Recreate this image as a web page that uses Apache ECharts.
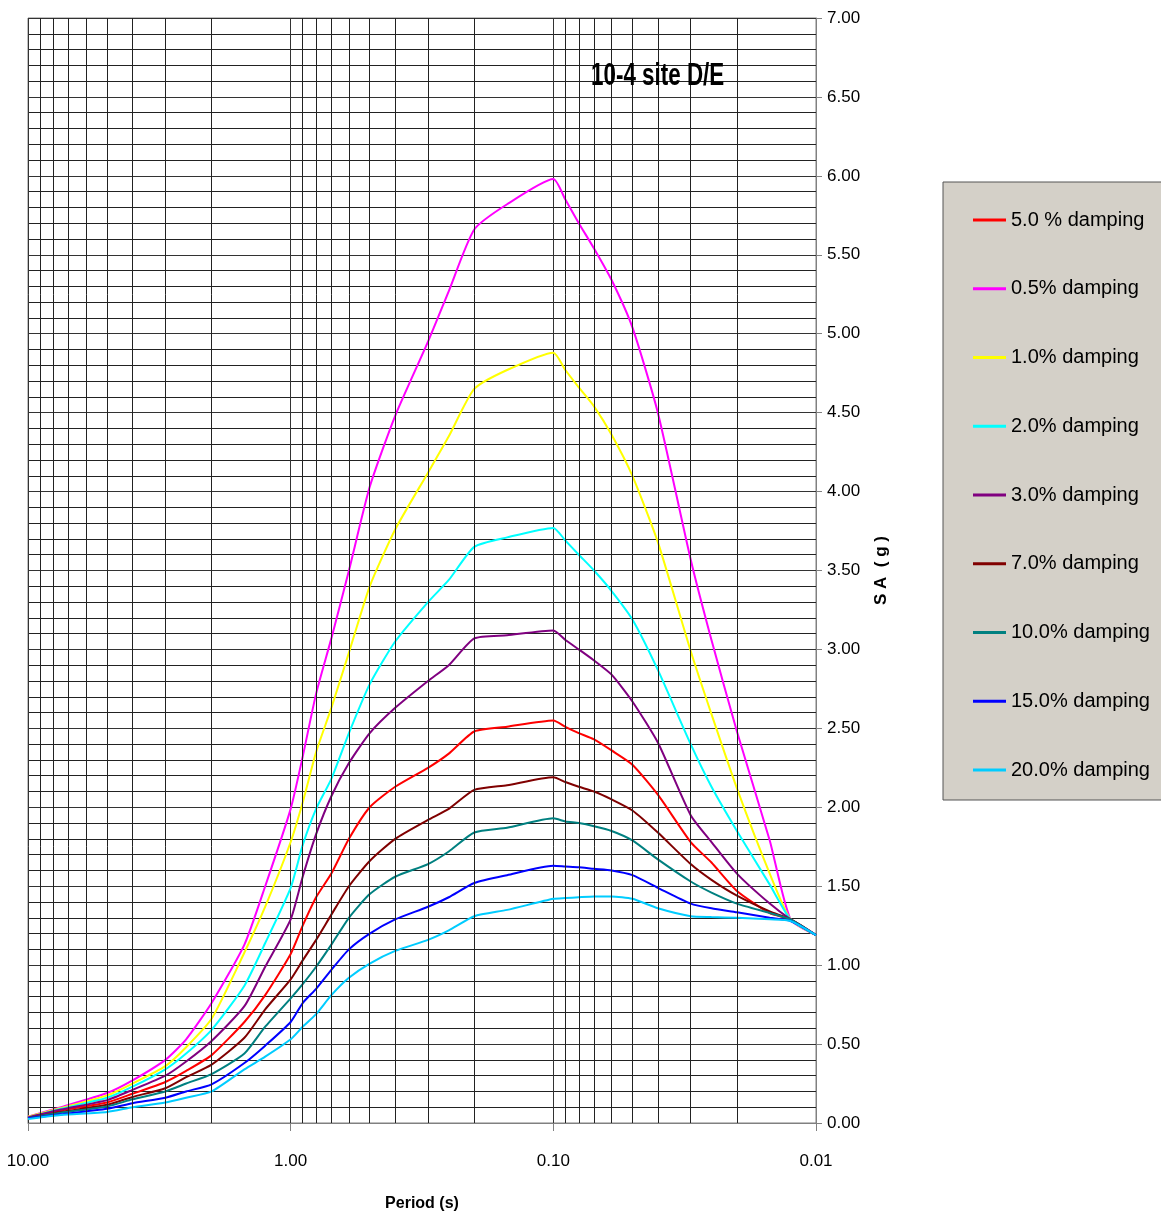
<!DOCTYPE html>
<html>
<head>
<meta charset="utf-8">
<title>10-4 site D/E</title>
<script src="https://cdn.jsdelivr.net/npm/echarts@6/dist/echarts.min.js"></script>
<style>
  html, body { margin: 0; padding: 0; background: #fff; }
  #chart { width: 1161px; height: 1220px; }
</style>
</head>
<body>
<div id="chart"></div>
<script>
// periods (s)
const periods = [10, 7.5, 5, 4, 3, 2.5, 2, 1.5, 1.25, 1, 0.9, 0.8, 0.7, 0.6, 0.5, 0.4, 0.3, 0.25, 0.2, 0.15,
  0.1, 0.09, 0.08, 0.07, 0.06, 0.05, 0.04, 0.03, 0.025, 0.02, 0.015, 0.0125, 0.01];

// spectral acceleration (g) per damping
const damp50 = [0.035, 0.08, 0.13, 0.185, 0.26, 0.33, 0.43, 0.64, 0.81, 1.07, 1.25, 1.43, 1.58, 1.80, 2.00, 2.13, 2.25, 2.34, 2.48, 2.51,
  2.55, 2.51, 2.47, 2.43, 2.36, 2.27, 2.08, 1.78, 1.65, 1.47, 1.33, 1.29, 1.19];
const damp05 = [0.04, 0.10, 0.19, 0.27, 0.40, 0.53, 0.76, 1.13, 1.50, 1.99, 2.32, 2.72, 3.07, 3.50, 4.03, 4.48, 4.95, 5.27, 5.66, 5.82,
  5.98, 5.85, 5.70, 5.54, 5.34, 5.04, 4.50, 3.57, 3.06, 2.48, 1.79, 1.29, 1.19];
const damp10 = [0.04, 0.095, 0.175, 0.25, 0.36, 0.48, 0.66, 1.08, 1.37, 1.78, 2.03, 2.35, 2.63, 2.98, 3.40, 3.76, 4.12, 4.35, 4.65, 4.77,
  4.88, 4.77, 4.66, 4.54, 4.36, 4.10, 3.68, 2.99, 2.59, 2.12, 1.58, 1.29, 1.19];
const damp20 = [0.035, 0.09, 0.16, 0.23, 0.34, 0.44, 0.59, 0.87, 1.14, 1.49, 1.76, 1.99, 2.18, 2.47, 2.78, 3.05, 3.30, 3.44, 3.65, 3.71,
  3.77, 3.69, 3.60, 3.50, 3.37, 3.19, 2.87, 2.40, 2.13, 1.85, 1.51, 1.29, 1.19];
const damp30 = [0.035, 0.085, 0.145, 0.21, 0.30, 0.39, 0.52, 0.74, 0.99, 1.29, 1.56, 1.83, 2.07, 2.28, 2.47, 2.63, 2.80, 2.90, 3.07, 3.09,
  3.12, 3.06, 3.00, 2.93, 2.84, 2.67, 2.41, 1.95, 1.78, 1.58, 1.39, 1.29, 1.19];
const damp70 = [0.03, 0.07, 0.115, 0.165, 0.22, 0.29, 0.37, 0.54, 0.72, 0.91, 1.03, 1.16, 1.32, 1.50, 1.66, 1.80, 1.92, 1.99, 2.11, 2.14,
  2.19, 2.16, 2.13, 2.10, 2.05, 1.98, 1.84, 1.64, 1.54, 1.44, 1.34, 1.29, 1.19];
const damp100 = [0.03, 0.065, 0.105, 0.15, 0.20, 0.25, 0.31, 0.44, 0.61, 0.79, 0.88, 0.99, 1.13, 1.30, 1.45, 1.56, 1.64, 1.72, 1.84, 1.87,
  1.93, 1.91, 1.90, 1.88, 1.85, 1.79, 1.67, 1.53, 1.46, 1.39, 1.33, 1.29, 1.19];
const damp150 = [0.03, 0.055, 0.09, 0.125, 0.16, 0.20, 0.245, 0.38, 0.49, 0.64, 0.76, 0.85, 0.97, 1.10, 1.20, 1.29, 1.37, 1.43, 1.52, 1.57,
  1.63, 1.625, 1.62, 1.61, 1.60, 1.57, 1.49, 1.39, 1.36, 1.335, 1.30, 1.28, 1.19];
const damp200 = [0.025, 0.05, 0.07, 0.10, 0.13, 0.16, 0.20, 0.34, 0.42, 0.53, 0.61, 0.69, 0.81, 0.92, 1.01, 1.09, 1.16, 1.22, 1.31, 1.35,
  1.42, 1.425, 1.43, 1.435, 1.435, 1.42, 1.36, 1.31, 1.305, 1.30, 1.29, 1.28, 1.19];

const seriesNames = ['5.0 % damping', '0.5% damping', '1.0% damping', '2.0% damping', '3.0% damping',
  '7.0% damping', '10.0% damping', '15.0% damping', '20.0% damping'];
const seriesValues = [damp50, damp05, damp10, damp20, damp30, damp70, damp100, damp150, damp200];
const seriesColors = ['#ff0000', '#ff00ff', '#ffff00', '#00ffff', '#800080', '#800000', '#008080', '#0000ff', '#00ccff'];

const FONT = "'Liberation Sans', Arial, sans-serif";

// minor vertical grid lines of the log axis (2..9 in every decade)
const minorX = [];
[0.01, 0.1, 1].forEach(d => {
  for (let k = 2; k <= 9; k++) minorX.push(+(k * d).toFixed(4));
});

const series = [{
  name: 'grid',
  type: 'line',
  data: [],
  silent: true,
  z: 1,
  markLine: {
    silent: true,
    symbol: 'none',
    animation: false,
    label: { show: false },
    lineStyle: { color: '#222', width: 1, type: 'solid' },
    data: minorX.map(v => ({ xAxis: v }))
  }
}];
seriesNames.forEach((name, i) => {
  series.push({
    name: name,
    type: 'line',
    showSymbol: false,
    symbol: 'none',
    smooth: 0.2,
    color: seriesColors[i],
    lineStyle: { width: 2, color: seriesColors[i] },
    data: periods.map((t, j) => [t, seriesValues[i][j]]),
    z: 3
  });
});

const option = {
  animation: false,
  backgroundColor: '#fff',
  // chart title drawn as a condensed, tall text like the original narrow font
  graphic: [{
    type: 'text',
    left: 591,
    top: 60,
    scaleX: 0.7,
    z: 10,
    style: {
      text: '10-4 site D/E',
      font: "bold 32px 'Liberation Sans', Arial, sans-serif",
      fill: '#000'
    }
  }],
  legend: {
    data: seriesNames,
    orient: 'vertical',
    left: 943,
    top: 182,
    padding: [26, 30, 18, 30],
    itemGap: 44.75,
    itemWidth: 33,
    itemHeight: 3,
    icon: 'rect',
    backgroundColor: '#d4d0c8',
    borderColor: '#555',
    borderWidth: 1,
    borderRadius: 0,
    selectedMode: false,
    textStyle: { fontSize: 20, lineHeight: 24, color: '#000', fontFamily: FONT }
  },
  grid: {
    left: 28, right: 345, top: 18, bottom: 97,
    show: true,
    borderColor: '#808080',
    borderWidth: 1
  },
  xAxis: {
    type: 'log',
    logBase: 10,
    min: 0.01,
    max: 10,
    inverse: true,
    name: 'Period (s)',
    nameLocation: 'middle',
    nameGap: 73,
    nameTextStyle: { fontSize: 16, fontWeight: 'bold', color: '#000', fontFamily: FONT },
    axisLine: { show: true, lineStyle: { color: '#808080', width: 1 } },
    axisTick: { show: true, length: 8, lineStyle: { color: '#808080' } },
    axisLabel: {
      formatter: v => Number(v).toFixed(2),
      fontSize: 17,
      margin: 30,
      color: '#000',
      fontFamily: FONT
    },
    splitLine: { show: true, lineStyle: { color: '#333', width: 1 } }
  },
  yAxis: {
    type: 'value',
    position: 'right',
    min: 0,
    max: 7,
    interval: 0.5,
    name: 'S A  ( g )',
    nameLocation: 'middle',
    nameGap: 57,
    nameTextStyle: { fontSize: 17, fontWeight: 'bold', color: '#000', fontFamily: FONT },
    axisLine: { show: true, lineStyle: { color: '#808080', width: 1 } },
    axisTick: { show: true, length: 6, lineStyle: { color: '#808080' } },
    axisLabel: {
      formatter: v => v.toFixed(2),
      fontSize: 17,
      margin: 11,
      color: '#000',
      fontFamily: FONT
    },
    splitLine: { show: true, lineStyle: { color: '#333', width: 1 } },
    minorTick: { show: false, splitNumber: 5 },
    minorSplitLine: { show: true, lineStyle: { color: '#222', width: 1 } }
  },
  series: series
};

const myChart = echarts.init(document.getElementById('chart'));
myChart.setOption(option);
</script>
</body>
</html>
